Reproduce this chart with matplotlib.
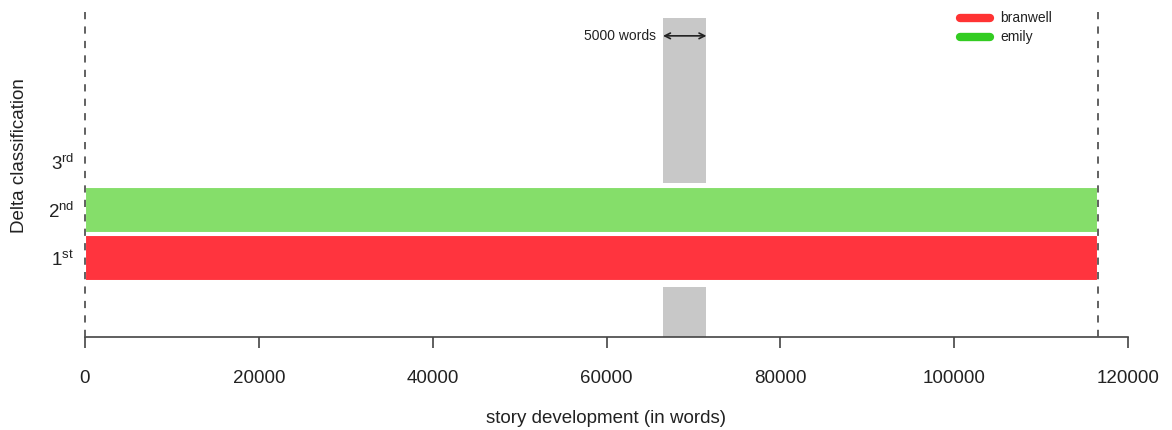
import matplotlib
matplotlib.use("Agg")
import matplotlib.pyplot as plt

plt.rcParams['font.family'] = ['Liberation Sans', 'DejaVu Sans']
plt.rcParams['mathtext.default'] = 'regular'

# data
authors = ['branwell', 'emily']
ranks = [1, 2]
seg_start = [0, 0]
seg_end = [116600, 116600]
bar_colors = ['#ff343e', '#85de6a']
legend_colors = ['#ff3333', '#33cc22']
rank_labels = ['1$^{st}$', '2$^{nd}$', '3$^{rd}$']
text_end = 116600
window_start = 66500
window_size = 5000
xticks = [0, 20000, 40000, 60000, 80000, 100000, 120000]

fig = plt.figure(figsize=(11.72, 4.30), dpi=100)
ax = fig.add_axes([85/1172, 93/430, 1043/1172, 329/430])
ax.set_xlim(0, 120000)
ax.set_ylim(-0.65, 6.2)

# rolling window (grey) interrupted around the bars
ax.bar(window_start, 6.0 - 2.56, bottom=2.56, width=window_size, align='edge',
       color='#c8c8c8', zorder=1)
ax.bar(window_start, 0.4 - (-0.65), bottom=-0.65, width=window_size, align='edge',
       color='#c8c8c8', zorder=1)

# classification bars
for r, s, e, c in zip(ranks, seg_start, seg_end, bar_colors):
    ax.barh(r, e - s, left=s, height=0.96, color=c, edgecolor='white',
            linewidth=1.5, zorder=2)

# start / end of text
for xv in [0, text_end]:
    ax.axvline(xv, color='#555555', lw=1.3, ls=(0, (4, 4)), zorder=3,
               clip_on=False)

# window size annotation
ax.annotate('', xy=(window_start, 5.62), xytext=(window_start + window_size, 5.62),
            arrowprops=dict(arrowstyle='<->', color='#222222', lw=1.2,
                            shrinkA=0, shrinkB=0), zorder=4)
ax.text(window_start - 800, 5.62, '%d words' % window_size, ha='right',
        va='center', fontsize=10, color='#222222')

# legend
for i, (a, c) in enumerate(zip(authors, legend_colors)):
    yv = 6.0 - i * 0.40
    ax.plot([100700, 104100], [yv, yv], color=c, lw=6, solid_capstyle='round',
            clip_on=False)
    ax.text(105300, yv, a, ha='left', va='center', fontsize=10, color='#222222')

for sp in ['top', 'right', 'left']:
    ax.spines[sp].set_visible(False)
ax.spines['bottom'].set_color('#444444')
ax.spines['bottom'].set_linewidth(1.2)

ax.set_xticks(xticks)
ax.set_xticklabels([str(t) for t in xticks])
ax.tick_params(axis='x', length=8, width=1.2, color='#444444', labelsize=13.5,
               pad=16, labelcolor='#222222')
ax.set_yticks([1, 2, 3])
ax.set_yticklabels(rank_labels)
ax.tick_params(axis='y', length=0, labelsize=13.5, pad=8, labelcolor='#222222')

ax.set_xlabel('story development (in words)', fontsize=13.5, labelpad=16,
              color='#222222')
ax.set_ylabel('Delta classification', fontsize=13.5, color='#222222')
ax.yaxis.set_label_coords(-0.055, 0.55)

fig.savefig('out.png', dpi=100)
